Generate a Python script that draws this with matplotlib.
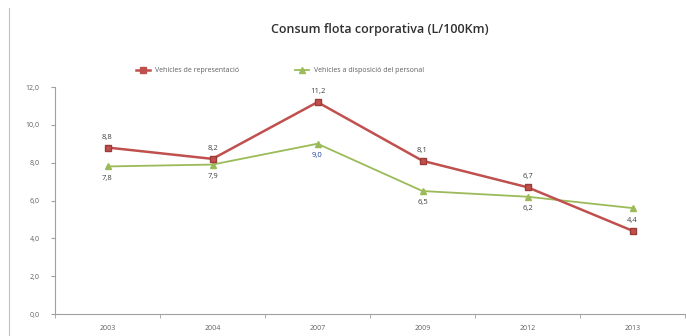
import numpy as np
import matplotlib.pyplot as plt
from matplotlib.lines import Line2D

# dades
anys = ['2003', '2004', '2007', '2009', '2012', '2013']
representacio = [8.8, 8.2, 11.2, 8.1, 6.7, 4.4]
personal = [7.8, 7.9, 9.0, 6.5, 6.2, 5.6]
etiquetes_repr = ['8,8', '8,2', '11,2', '8,1', '6,7', '4,4']
etiquetes_pers = ['7,8', '7,9', '9,0', '6,5', '6,2', '']

plt.rcParams['font.family'] = ['Open Sans', 'DejaVu Sans']

fig = plt.figure(figsize=(6.86, 3.36), dpi=100)
ax = fig.add_axes([55 / 686, 22 / 336, 630 / 686, 227 / 336])

x = np.arange(len(anys))
vermell = '#c0504d'
verd = '#9bbb59'

ax.plot(x, representacio, color=vermell, lw=1.8, marker='s', ms=5,
        markerfacecolor=vermell, markeredgecolor='#9c3a38', zorder=3)
ax.plot(x, personal, color=verd, lw=1.3, marker='^', ms=4,
        markerfacecolor=verd, zorder=2)

for xi, v, t in zip(x, representacio, etiquetes_repr):
    ax.annotate(t, (xi, v), xytext=(0, 5), textcoords='offset points',
                ha='center', va='bottom', fontsize=5.5, color='#404040')
for xi, v, t in zip(x, personal, etiquetes_pers):
    c = '#1f3f9f' if xi == 2 else '#404040'
    ax.annotate(t, (xi, v), xytext=(0, -6), textcoords='offset points',
                ha='center', va='top', fontsize=5.5, color=c)

ax.set_xlim(-0.5, len(anys) - 0.5)
ax.set_ylim(0, 12)
ax.set_yticks(np.arange(0, 13, 2))
ax.set_yticklabels([f'{v:.1f}'.replace('.', ',') for v in np.arange(0, 13, 2)])
ax.set_xticks(x)
ax.set_xticklabels(anys)
ax.set_xticks(np.arange(-0.5, len(anys), 1), minor=True)
ax.tick_params(axis='x', which='major', length=0, labelsize=5, colors='#606060', pad=8)
ax.tick_params(axis='x', which='minor', length=3, color='#a0a0a0')
ax.tick_params(axis='y', length=3, labelsize=5, colors='#606060', color='#a0a0a0', pad=8)

for s in ['top', 'right']:
    ax.spines[s].set_visible(False)
for s in ['left', 'bottom']:
    ax.spines[s].set_color('#a0a0a0')
    ax.spines[s].set_linewidth(0.8)

fig.text(380 / 686, 1 - 30 / 336, 'Consum flota corporativa (L/100Km)',
         ha='center', va='center', fontsize=9, color='#303030', fontweight='semibold')

handles = [Line2D([], [], color=vermell, lw=1.8, marker='s', ms=4),
           Line2D([], [], color=verd, lw=1.3, marker='^', ms=4)]
fig.legend(handles, ['Vehicles de representació', 'Vehicles a disposició del personal'],
           loc='center', bbox_to_anchor=(280 / 686, 1 - 71 / 336), ncol=2,
           frameon=False, fontsize=5, columnspacing=8, handlelength=2,
           labelcolor='#606060')

fig.add_artist(Line2D([9 / 686, 9 / 686], [0, 1 - 8 / 336], color='#c0c0c0', lw=0.8))

fig.savefig('out.png', dpi=100)
